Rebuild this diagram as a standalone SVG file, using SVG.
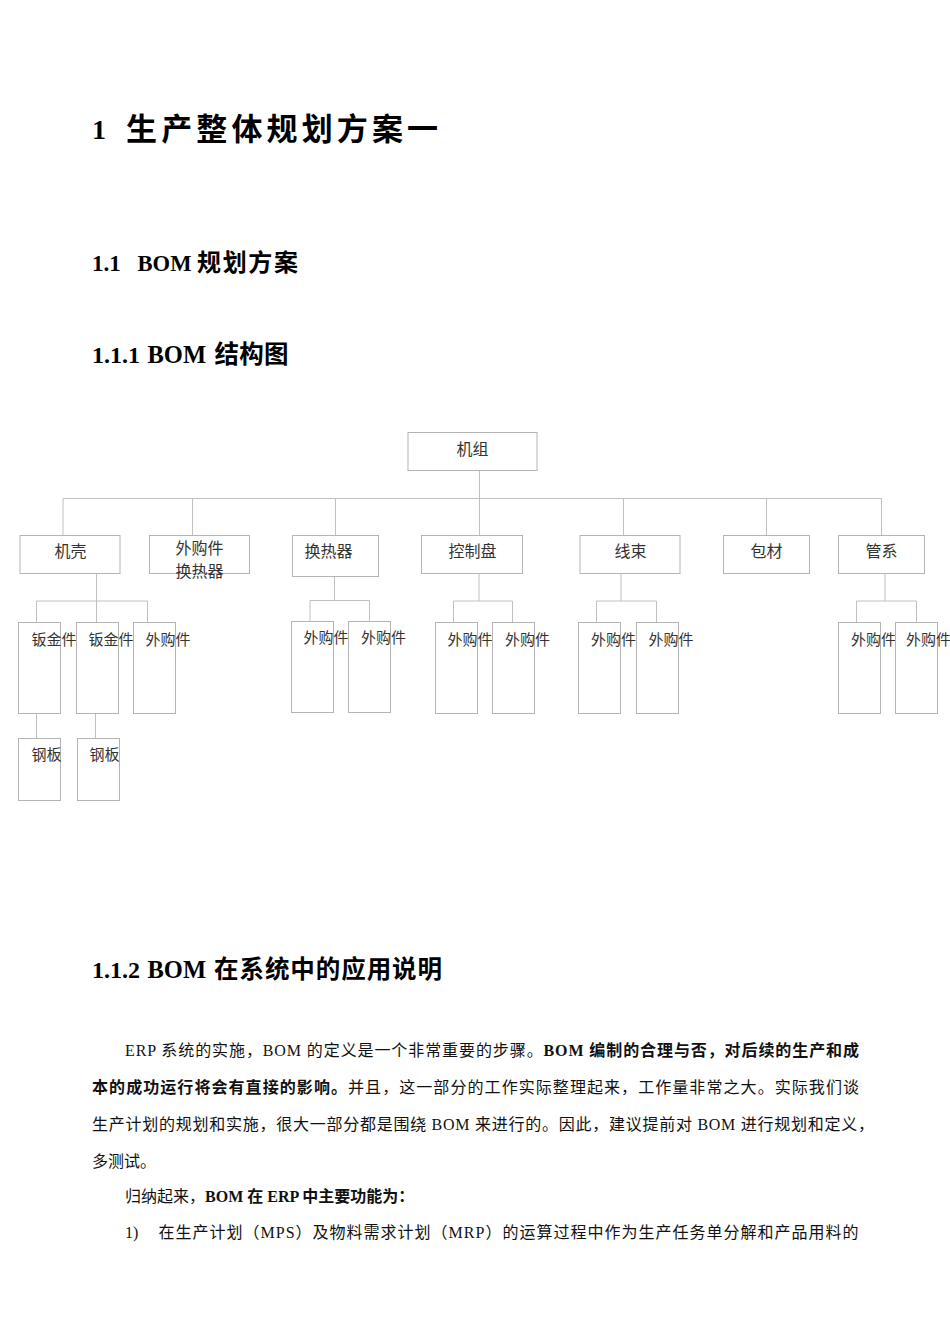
<svg xmlns="http://www.w3.org/2000/svg" width="950" height="1344" viewBox="0 0 950 1344">
<style>
.bg{fill:#fff}
.box{fill:#fff;stroke:#b4b4b4;stroke-width:1}
.ln{stroke:#c0c0c0;stroke-width:1;fill:none}
.l1{font-family:"Noto Sans CJK SC",sans-serif;font-size:16px;fill:#333;text-anchor:middle}
.l2{font-family:"Noto Sans CJK SC",sans-serif;font-size:15px;fill:#333}
.hd{font-family:"Liberation Serif","Noto Sans CJK SC",serif;font-weight:bold;fill:#000}
.hc{font-family:"Noto Sans CJK SC",sans-serif;font-weight:bold;fill:#000}
.p{font-family:"Liberation Serif","Noto Sans CJK SC",serif;font-size:16px;fill:#111}
.b{font-weight:bold}
</style>
<rect class="bg" x="0" y="0" width="950" height="1344"/>

<g id="headings">
<text class="hd" x="92" y="139" font-size="28">1</text>
<text class="hc" x="126" y="140" font-size="31" textLength="312" lengthAdjust="spacing">生产整体规划方案一</text>
<text class="hd" x="92" y="271" font-size="23">1.1</text>
<text class="hd" x="137.5" y="271" font-size="22.6">BOM</text>
<text class="hc" x="197" y="271" font-size="24" textLength="101" lengthAdjust="spacing">规划方案</text>
<text class="hd" x="92" y="363" font-size="24" textLength="48" lengthAdjust="spacingAndGlyphs">1.1.1</text>
<text class="hd" x="147.5" y="363" font-size="24.5">BOM</text>
<text class="hc" x="214.5" y="363" font-size="24.5" textLength="74" lengthAdjust="spacing">结构图</text>
<text class="hd" x="92" y="978" font-size="24" textLength="48" lengthAdjust="spacingAndGlyphs">1.1.2</text>
<text class="hd" x="147.5" y="978" font-size="24.5">BOM</text>
<text class="hc" x="214" y="978" font-size="24.5" textLength="228" lengthAdjust="spacing">在系统中的应用说明</text>
</g>

<g id="connectors">
<path class="ln" d="M479.5,470.5V535M63,498.5H881.5M63,498.5V535M192.5,498.5V535M335.5,498.5V535M623.5,498.5V535M766.5,498.5V535M881.5,498.5V535"/>
<path class="ln" d="M96.5,573V601M36.5,601H147.5M36.5,601V623M96.5,601V623M147.5,601V623M36.5,713V738.5M95.5,713V738.5"/>
<path class="ln" d="M334.5,576V600.5M310,600.5H369.5M310,600.5V622M369.5,600.5V622"/>
<path class="ln" d="M479,573V601M453.5,601H512.5M453.5,601V623M512.5,601V623"/>
<path class="ln" d="M621,573V601M596.5,601H656.5M596.5,601V623M656.5,601V623"/>
<path class="ln" d="M885,573V601M856.5,601H916.5M856.5,601V623M916.5,601V623"/>
</g>

<g id="n-jizu"><rect class="box" x="408" y="432.5" width="129" height="38"/><text class="l1" x="472.5" y="455">机组</text></g>
<g id="n-jike"><rect class="box" x="20" y="535.5" width="100" height="38"/><text class="l1" x="70.5" y="557">机壳</text></g>
<g id="n-waigou-hrq"><rect class="box" x="149.5" y="535.5" width="100" height="38"/><text class="l1" x="199.5" y="553.5" font-size="14.5">外购件</text><text class="l1" x="199.5" y="576.5" font-size="14.5">换热器</text></g>
<g id="n-hrq"><rect class="box" x="292.5" y="535.5" width="86" height="41"/><text class="l1" x="328.5" y="557">换热器</text></g>
<g id="n-kzp"><rect class="box" x="421.5" y="535.5" width="101" height="38"/><text class="l1" x="472.5" y="557">控制盘</text></g>
<g id="n-xs"><rect class="box" x="580" y="535.5" width="100" height="38"/><text class="l1" x="630.5" y="557">线束</text></g>
<g id="n-bc"><rect class="box" x="723.5" y="535.5" width="86" height="38"/><text class="l1" x="766.5" y="557">包材</text></g>
<g id="n-gx"><rect class="box" x="838.5" y="535.5" width="86" height="38"/><text class="l1" x="881.5" y="557">管系</text></g>

<g id="n-bjj1"><rect class="box" x="18.5" y="622.5" width="42" height="91"/><text class="l2" x="31.5" y="645">钣金件</text></g>
<g id="n-bjj2"><rect class="box" x="76.5" y="622.5" width="42" height="91"/><text class="l2" x="88.5" y="645">钣金件</text></g>
<g id="n-jk-wg"><rect class="box" x="133.5" y="622.5" width="42" height="91"/><text class="l2" x="145.5" y="645">外购件</text></g>
<g id="n-gb1"><rect class="box" x="18.5" y="738.5" width="42" height="62"/><text class="l2" x="31.5" y="760">钢板</text></g>
<g id="n-gb2"><rect class="box" x="77.5" y="738.5" width="42" height="62"/><text class="l2" x="89.5" y="760">钢板</text></g>
<g id="n-hrq-wg1"><rect class="box" x="291.5" y="621.5" width="42" height="91"/><text class="l2" x="303.5" y="643">外购件</text></g>
<g id="n-hrq-wg2"><rect class="box" x="348.5" y="621.5" width="42" height="91"/><text class="l2" x="361" y="643">外购件</text></g>
<g id="n-kzp-wg1"><rect class="box" x="435.5" y="622.5" width="42" height="91"/><text class="l2" x="447.5" y="645">外购件</text></g>
<g id="n-kzp-wg2"><rect class="box" x="492.5" y="622.5" width="42" height="91"/><text class="l2" x="505" y="645">外购件</text></g>
<g id="n-xs-wg1"><rect class="box" x="578.5" y="622.5" width="42" height="91"/><text class="l2" x="591" y="645">外购件</text></g>
<g id="n-xs-wg2"><rect class="box" x="636.5" y="622.5" width="42" height="91"/><text class="l2" x="648.5" y="645">外购件</text></g>
<g id="n-gx-wg1"><rect class="box" x="838.5" y="622.5" width="42" height="91"/><text class="l2" x="851" y="645">外购件</text></g>
<g id="n-gx-wg2"><rect class="box" x="895.5" y="622.5" width="42" height="91"/><text class="l2" x="906" y="645" font-size="14.5">外购件</text></g>

<g id="paragraph">
<text class="p" x="125" y="1056" textLength="734" lengthAdjust="spacing">ERP 系统的实施，BOM 的定义是一个非常重要的步骤。<tspan class="b">BOM 编制的合理与否，对后续的生产和成</tspan></text>
<text class="p" x="92" y="1093" textLength="767" lengthAdjust="spacing"><tspan class="b">本的成功运行将会有直接的影响。</tspan>并且，这一部分的工作实际整理起来，工作量非常之大。实际我们谈</text>
<text class="p" x="92" y="1130" textLength="782" lengthAdjust="spacing">生产计划的规划和实施，很大一部分都是围绕 BOM 来进行的。因此，建议提前对 BOM 进行规划和定义，</text>
<text class="p" x="92" y="1167">多测试。</text>
<text class="p" x="125" y="1202">归纳起来，<tspan class="b">BOM 在 ERP 中主要功能为：</tspan></text>
<text class="p" x="125" y="1238">1)</text>
<text class="p" x="158.5" y="1238" textLength="700" lengthAdjust="spacing">在生产计划（MPS）及物料需求计划（MRP）的运算过程中作为生产任务单分解和产品用料的</text>
</g>
</svg>
